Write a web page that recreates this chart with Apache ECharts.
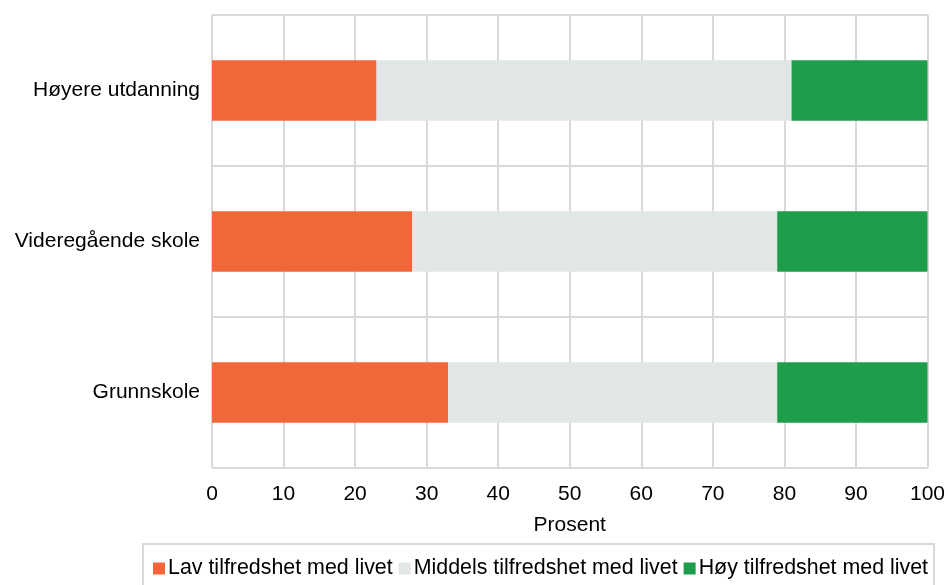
<!DOCTYPE html>
<html><head><meta charset="utf-8">
<script src="https://cdn.jsdelivr.net/npm/echarts@6/dist/echarts.min.js"></script>
<style>html,body{margin:0;padding:0;background:#fff}#c{width:948px;height:585px}</style>
</head><body><div id="c"></div>
<script>
const categories = ['Grunnskole', 'Videregående skole', 'Høyere utdanning'];
const seriesNames = ['Lav tilfredshet med livet', 'Middels tilfredshet med livet', 'Høy tilfredshet med livet'];
const lav = [33, 28, 23];
const middels = [46, 51, 58];
const hoy = [21, 21, 19];
const colors = ['#F2673A', '#E1E6E6', '#1E9E4A'];
const font = 'Liberation Sans, Arial, sans-serif';

const chart = echarts.init(document.getElementById('c'), null, {renderer: 'canvas'});
const mk = (name, data, color) => ({
  name, type: 'bar', stack: 'total', data, barWidth: '40%',
  itemStyle: {color}, emphasis: {disabled: true}
});
chart.setOption({
  animation: false,
  color: colors,
  textStyle: {fontFamily: font},
  grid: {left: 212, right: 19, top: 15, bottom: 117, containLabel: false},
  xAxis: {
    type: 'value', min: 0, max: 100, interval: 10,
    name: 'Prosent', nameLocation: 'middle', nameGap: 47,
    nameTextStyle: {fontSize: 21, color: '#000', fontFamily: font},
    axisLabel: {fontSize: 21, color: '#000', margin: 16, fontFamily: font},
    axisLine: {show: false}, axisTick: {show: false},
    splitLine: {show: true, lineStyle: {color: '#d9d9d9', width: 2}}
  },
  yAxis: {
    type: 'category', data: categories,
    axisLabel: {fontSize: 21, color: '#000', margin: 12, fontFamily: font},
    axisLine: {show: false}, axisTick: {show: false},
    splitLine: {show: true, lineStyle: {color: '#d9d9d9', width: 2}}
  },
  legend: {
    left: 143, top: 544, width: 805,
    data: seriesNames,
    itemWidth: 12, itemHeight: 12, itemGap: 6,
    icon: 'rect',
    borderColor: '#d9d9d9', borderWidth: 2,
    padding: [14, 6, 14, 10],
    textStyle: {fontSize: 21.4, color: '#000', fontFamily: font, padding: [0, 0, 0, -2]}
  },
  series: [mk(seriesNames[0], lav, colors[0]), mk(seriesNames[1], middels, colors[1]), mk(seriesNames[2], hoy, colors[2])]
});
</script></body></html>
